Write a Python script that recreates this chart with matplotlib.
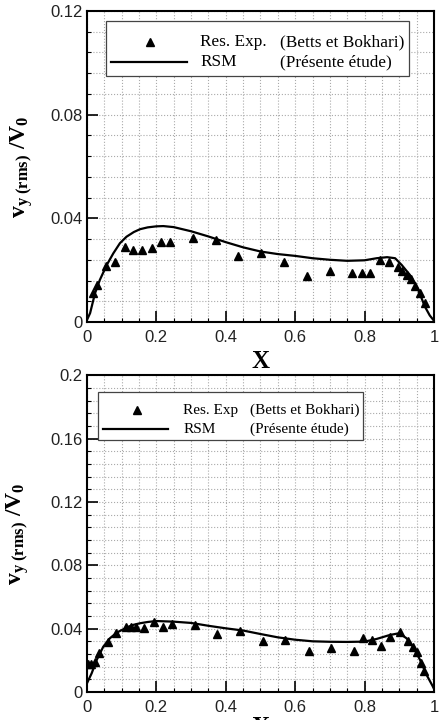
import matplotlib
matplotlib.use('Agg')
import matplotlib.pyplot as plt
from matplotlib.patches import Rectangle
from matplotlib.ticker import MultipleLocator

plt.rcParams['font.family'] = ['Liberation Sans', 'DejaVu Sans']
plt.rcParams['mathtext.fontset'] = 'custom'
plt.rcParams['mathtext.rm'] = 'Liberation Serif'
plt.rcParams['mathtext.bf'] = 'Liberation Serif:bold'
plt.rcParams['mathtext.it'] = 'Liberation Serif:italic'

# ---- top panel data ----
exp1_x = [0.017, 0.030, 0.055, 0.082, 0.109, 0.134, 0.160, 0.187, 0.213, 0.240,
          0.305, 0.371, 0.435, 0.502, 0.568, 0.633, 0.700, 0.765, 0.792, 0.817,
          0.844, 0.869, 0.896, 0.909, 0.922, 0.934, 0.946, 0.961, 0.974]
exp1_y = [0.0111, 0.0144, 0.0215, 0.0231, 0.0290, 0.0276, 0.0276, 0.0284, 0.0310, 0.0310,
          0.0325, 0.0317, 0.0256, 0.0266, 0.0231, 0.0179, 0.0195, 0.0189, 0.0189, 0.0189,
          0.0238, 0.0232, 0.0214, 0.0196, 0.0180, 0.0164, 0.0137, 0.0111, 0.0075]

rsm1_x = [0, 0.009, 0.023, 0.037, 0.057, 0.076, 0.095, 0.114, 0.135, 0.153, 0.175, 0.2,
          0.22, 0.25, 0.3, 0.35, 0.4, 0.45, 0.5, 0.55, 0.6, 0.65, 0.7, 0.75, 0.8,
          0.835, 0.865, 0.888, 0.907, 0.931, 0.955, 0.974, 0.988, 1.0]
rsm1_y = [0.0008, 0.0034, 0.0110, 0.0162, 0.0220, 0.0265, 0.0304, 0.0329, 0.0347, 0.0358,
          0.0365, 0.0369, 0.0370, 0.0366, 0.0350, 0.0330, 0.0308, 0.0288, 0.0272, 0.0262,
          0.0255, 0.0246, 0.0240, 0.0236, 0.0238, 0.0246, 0.0250, 0.0246, 0.0220, 0.0181,
          0.0123, 0.0059, 0.0025, 0.0005]

# ---- bottom panel data ----
exp2_x = [0.004, 0.013, 0.023, 0.035, 0.060, 0.085, 0.112, 0.127, 0.141, 0.165,
          0.192, 0.219, 0.246, 0.311, 0.376, 0.442, 0.507, 0.572, 0.639, 0.704,
          0.769, 0.796, 0.821, 0.848, 0.874, 0.902, 0.926, 0.939, 0.952, 0.964, 0.970]
exp2_y = [0.0179, 0.0179, 0.0190, 0.0246, 0.0316, 0.0373, 0.0410, 0.0410, 0.0410, 0.0404,
          0.0442, 0.0410, 0.0427, 0.0425, 0.0368, 0.0388, 0.0321, 0.0327, 0.0260, 0.0278,
          0.0260, 0.0340, 0.0327, 0.0293, 0.0346, 0.0376, 0.0321, 0.0285, 0.0254, 0.0184, 0.0135]

rsm2_x = [0, 0.0135, 0.028, 0.047, 0.066, 0.086, 0.11, 0.13, 0.153, 0.175, 0.2, 0.25,
          0.3, 0.35, 0.4, 0.45, 0.5, 0.55, 0.6, 0.65, 0.7, 0.75, 0.8, 0.835, 0.873,
          0.9, 0.921, 0.94, 0.96, 0.979, 0.996, 1.0]
rsm2_y = [0.0055, 0.0118, 0.0202, 0.0286, 0.0339, 0.0375, 0.0402, 0.0422, 0.0434, 0.0442,
          0.0448, 0.0444, 0.0436, 0.0418, 0.0402, 0.0388, 0.0366, 0.0345, 0.0330, 0.0320,
          0.0317, 0.0316, 0.0318, 0.0335, 0.0360, 0.0371, 0.0339, 0.0286, 0.0202, 0.0107,
          0.0038, 0.0020]

ylabel = r'$\mathbf{v}_{\mathbf{y}\ \mathbf{(rms)}}\ \mathbf{/V}_{\mathbf{0}}$'
serif = ['Liberation Serif', 'DejaVu Serif']


def draw_panel(ax, ex, ey, rx, ry, ymax, exp_label, leg, fs):
    ax.plot(rx, ry, color='black', lw=1.6, zorder=3)
    ax.plot(ex, ey, linestyle='none', marker='^', color='black', ms=6, zorder=4)
    ax.set_xlim(0, 1)
    ax.set_ylim(0, ymax)
    ax.xaxis.set_major_locator(MultipleLocator(0.2))
    ax.xaxis.set_minor_locator(MultipleLocator(0.05))
    ax.yaxis.set_major_locator(MultipleLocator(0.04))
    ax.yaxis.set_minor_locator(MultipleLocator(0.008))
    fmt = plt.FuncFormatter(lambda v, p: '%g' % round(v, 3))
    ax.xaxis.set_major_formatter(fmt)
    ax.yaxis.set_major_formatter(fmt)
    ax.grid(which='both', linestyle=':', color='#aaaaaa', lw=0.8)
    ax.set_axisbelow(True)
    ax.tick_params(which='major', direction='in', length=8, width=1.2,
                   labelsize=12, labelcolor='#222222')
    ax.tick_params(axis='x', which='major', pad=6)
    ax.tick_params(axis='y', which='major', pad=3)
    ax.tick_params(which='minor', direction='in', length=3, width=0.8)
    for s in ax.spines.values():
        s.set_linewidth(1.5)
    ax.set_ylabel(ylabel, fontsize=17)
    ax.set_xlabel('X', family=serif, fontweight='bold', fontsize=18, labelpad=0)

    # legend box, drawn by hand to keep two text columns
    bx0, by0, bx1, by1, mx, my, lx0, lx1, ly, tx1, tx2 = leg
    ax.add_patch(Rectangle((bx0, by0), bx1 - bx0, by1 - by0, transform=ax.transAxes,
                           facecolor='white', edgecolor='#444444', lw=0.9, zorder=5))
    ax.plot([mx], [my], marker='^', color='black', ms=6, transform=ax.transAxes, zorder=6)
    ax.plot([lx0, lx1], [ly, ly], color='black', lw=1.6, transform=ax.transAxes, zorder=6)
    ax.text(tx1, my, exp_label, transform=ax.transAxes, family=serif, fontsize=fs,
            va='center', zorder=6)
    ax.text(tx2, my, '(Betts et Bokhari)', transform=ax.transAxes, family=serif,
            fontsize=fs, va='center', zorder=6)
    ax.text(tx1, ly, 'RSM', transform=ax.transAxes, family=serif, fontsize=fs,
            va='center', zorder=6)
    ax.text(tx2, ly, '(Présente étude)', transform=ax.transAxes, family=serif,
            fontsize=fs, va='center', zorder=6)


fig = plt.figure(figsize=(4.46, 7.2), dpi=100)
ax1 = fig.add_axes([0.195, 0.5528, 0.778, 0.432])
ax2 = fig.add_axes([0.195, 0.0389, 0.778, 0.440])

draw_panel(ax1, exp1_x, exp1_y, rsm1_x, rsm1_y, 0.12, 'Res. Exp.',
           (0.055, 0.791, 0.928, 0.968, 0.182, 0.900, 0.069, 0.288, 0.836, 0.326, 0.556), 12.4)
draw_panel(ax2, exp2_x, exp2_y, rsm2_x, rsm2_y, 0.2, 'Res. Exp',
           (0.032, 0.795, 0.795, 0.946, 0.144, 0.890, 0.046, 0.233, 0.830, 0.277, 0.470), 11)

ax1.yaxis.set_label_coords(-0.15, 0.5)
ax2.yaxis.set_label_coords(-0.16, 0.5)
ax1.xaxis.set_label_coords(0.5, -0.09)
ax2.xaxis.set_label_coords(0.5, -0.075)

fig.savefig('out.png', dpi=100)
